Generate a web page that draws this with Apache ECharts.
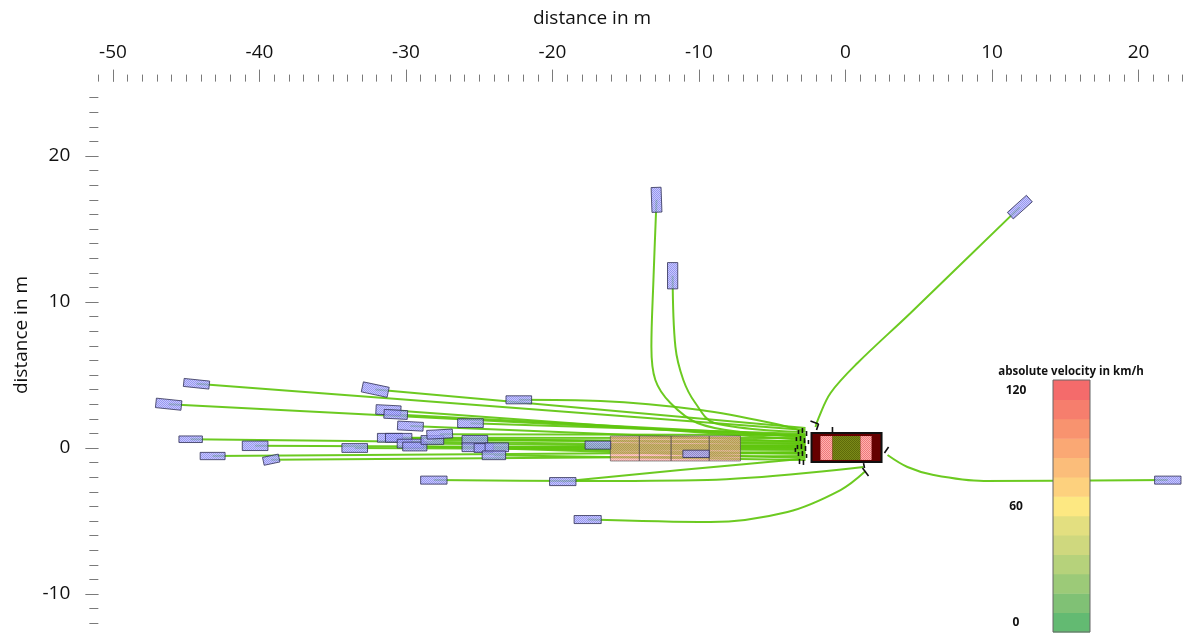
<!DOCTYPE html>
<html>
<head>
<meta charset="utf-8">
<script src="https://cdn.jsdelivr.net/npm/echarts@6/dist/echarts.min.js"></script>
<style>
  html, body { margin: 0; padding: 0; background: #ffffff; }
  #chart { width: 1187px; height: 637px; }
</style>
</head>
<body>
<div id="chart"></div>
<script>
// ---- Scene data (metres, ego vehicle at the origin) ----

// Other road users: centre x, centre y, heading (deg), length, width
const vehX       = [-44.3, -46.2, -32.1, -22.3, -31.2, -30.7, -29.7, -25.6, -44.7, -40.3, -43.2, -39.2, -33.5, -31.1, -30.5, -29.7, -29.4, -28.2, -27.7, -25.3, -25.3, -24.7, -23.8, -24.0, -28.1, -19.3, -17.6, -12.9, -11.8, 11.9, 22.0, -16.9, -10.2];
const vehY       = [4.4, 3.0, 4.0, 3.3, 2.6, 2.3, 1.5, 1.7, 0.6, 0.15, -0.55, -0.8, 0.0, 0.7, 0.7, 0.3, 0.1, 0.55, 0.95, 0.55, 0.05, 0.0, 0.05, -0.5, -2.2, -2.3, -4.9, 17.0, 11.8, 16.5, -2.2, 0.2, -0.4];
const vehHeading = [-6, -6, -12, 0, -3, -3, -3, 0, 0, 0, 0, 12, 0, 0, 0, 0, 0, 0, 3, 0, 0, 0, 0, 0, 0, 0, 0, 92, 90, 42, 0, 0, 0];
const vehLength  = [1.75, 1.75, 1.8, 1.75, 1.7, 1.6, 1.75, 1.75, 1.6, 1.75, 1.7, 1.1, 1.75, 1.7, 1.8, 1.8, 1.65, 1.55, 1.75, 1.75, 1.75, 1.3, 1.6, 1.6, 1.8, 1.8, 1.85, 1.7, 1.8, 1.75, 1.8, 1.75, 1.8];
const vehWidth   = [0.55, 0.65, 0.7, 0.55, 0.65, 0.6, 0.6, 0.6, 0.45, 0.65, 0.5, 0.55, 0.6, 0.6, 0.6, 0.6, 0.6, 0.6, 0.6, 0.6, 0.6, 0.6, 0.6, 0.6, 0.55, 0.55, 0.55, 0.68, 0.7, 0.6, 0.55, 0.55, 0.5];

// Predicted trajectory of each road user, from its position to its end point near the ego vehicle
const tracks = [
  [[-44.3, 4.4], [-2.73, 1.23]],
  [[-46.2, 3.0], [-2.73, 0.75]],
  [[-32.1, 4.0], [-2.73, 1.37]],
  [[-22.3, 3.3], [-16.73, 3.22], [-9.90, 2.60], [-4.44, 1.58], [-2.73, 1.10]],
  [[-31.2, 2.6], [-2.73, 0.55]],
  [[-30.7, 2.3], [-2.73, 0.82]],
  [[-29.7, 1.5], [-2.73, 0.41]],
  [[-25.6, 1.7], [-2.73, 0.96]],
  [[-44.7, 0.6], [-2.73, 0.14]],
  [[-40.3, 0.15], [-2.73, 0.0]],
  [[-43.2, -0.55], [-2.73, -0.27]],
  [[-39.2, -0.8], [-2.73, -0.55]],
  [[-33.5, 0.0], [-2.73, -0.14]],
  [[-31.1, 0.7], [-2.73, 0.68]],
  [[-30.5, 0.7], [-2.73, 0.27]],
  [[-29.7, 0.3], [-2.73, 0.07]],
  [[-29.4, 0.1], [-2.73, -0.41]],
  [[-28.2, 0.55], [-2.73, 0.48]],
  [[-27.7, 0.95], [-2.73, 0.89]],
  [[-25.3, 0.55], [-2.73, 0.34]],
  [[-25.3, 0.05], [-2.73, -0.07]],
  [[-24.7, 0.0], [-2.73, -0.68]],
  [[-23.8, 0.05], [-2.73, 0.21]],
  [[-24.0, -0.5], [-2.73, -0.82]],
  [[-28.1, -2.2], [-18.44, -2.26], [-9.43, -2.19], [1.23, -1.30]],
  [[-19.3, -2.3], [-11.27, -1.51], [-3.07, -0.75]],
  [[-17.6, -4.9], [-9.22, -5.07], [-3.96, -4.38], [-0.34, -2.88], [1.37, -1.58]],
  [[-12.9, 17.0], [-13.11, 11.51], [-13.25, 6.92], [-12.98, 4.66], [-11.95, 3.08], [-10.11, 1.71], [-7.17, 1.10], [-2.87, 0.82]],
  [[-11.8, 11.8], [-11.61, 6.92], [-11.07, 4.66], [-10.25, 3.08], [-8.95, 1.71], [-2.87, 1.10]],
  [[11.9, 16.5], [4.44, 9.25], [0.82, 5.82], [-1.02, 3.77], [-1.84, 2.05], [-2.05, 1.44]],
  [[22.0, -2.2], [9.43, -2.26], [6.01, -1.85], [4.23, -1.30], [2.87, -0.48]],
  [[-16.9, 0.2], [-2.73, 0.07]],
  [[-10.2, -0.4], [-2.73, -0.34]]
];

// Occupied lane section ahead of the ego vehicle: segment edges along x, lateral extent
const bandEdgesX = [-16.05, -14.07, -11.9, -9.3, -7.17];
const bandY      = [-0.89, 0.82];

// Ego vehicle: body extent and the zone edges along its length
const egoBox    = [-2.32, -0.96, 2.46, 1.03];
const egoZonesX = [-1.71, -0.89, 1.02, 1.78];
const egoZoneY  = [-0.82, 0.82];

// Sensor detection markers around the ego vehicle: x1, y1, x2, y2
const markers = [
  [-2.39, 1.85, -1.84, 1.64], [-1.84, 1.64, -1.98, 1.23], [-0.89, 1.44, -0.89, 1.03],
  [2.66, -0.34, 2.94, 0.07], [1.23, -1.03, 1.30, -1.37], [1.16, -1.37, 1.57, -1.92],
  [-3.21, 1.23, -3.21, 0.96], [-2.94, 1.37, -2.94, 1.03], [-2.66, 1.16, -2.66, 0.82],
  [-3.35, 0.75, -3.35, 0.48], [-3.07, 0.82, -3.07, 0.48], [-2.80, 0.68, -2.80, 0.34],
  [-2.53, 0.55, -2.53, 0.27], [-3.28, 0.21, -3.28, -0.07], [-3.01, 0.27, -3.01, -0.07],
  [-2.73, 0.14, -2.73, -0.21], [-3.21, -0.27, -3.21, -0.55], [-2.94, -0.21, -2.94, -0.55],
  [-2.66, -0.41, -2.66, -0.68], [-3.14, -0.75, -3.14, -1.10], [-2.87, -0.82, -2.87, -1.16],
  [-3.42, 0.0, -3.42, -0.27]
];

// Velocity colour scale (km/h), from 0 up to 120
const velocityTicks  = [0, 60, 120];
const velocityColors = ['#63ba72', '#80c175', '#9cca78', '#b6d27b', '#cfd87e', '#e3df80', '#fde882',
                        '#fdd17e', '#fbbd7a', '#faa874', '#f8936f', '#f67e6d', '#f46b6b'];

// Axis ranges and label spacing (m)
const xRange = [-51, 23], xLabelRange = [-50, 20];
const yRange = [-12, 24], yLabelRange = [-10, 20];
const labelStep = 10;

// ---- Layout: equal scaling in both directions ----
const X0 = 845.5, PX = 14.65;   // pixel column of x = 0, pixels per metre
const Y0 = 448, PY = 14.6;      // pixel row of y = 0, pixels per metre
const gx = v => X0 + v * PX;
const gy = v => Y0 - v * PY;

function dotPattern(c1, c2) {
  const cv = document.createElement('canvas');
  cv.width = 2; cv.height = 2;
  const g = cv.getContext('2d');
  g.fillStyle = c1; g.fillRect(0, 0, 2, 2);
  g.fillStyle = c2; g.fillRect(0, 0, 1, 1); g.fillRect(1, 1, 1, 1);
  return { image: cv, repeat: 'repeat' };
}
const vehFill   = dotPattern('#b9b9ff', '#7f7fea');
const pinkFill  = dotPattern('#ffb0b0', '#ee7a7a');
const oliveFill = dotPattern('#7b8a18', '#5e6a0a');

const FONT = '"Open Sans", "Liberation Sans", sans-serif';
const tickColor = '#7a7a7a';

const grids = [
  { left: gx(xRange[0]), top: gy(yRange[1]), width: (xRange[1] - xRange[0]) * PX, height: (yRange[1] - yRange[0]) * PY },
  { left: gx(xLabelRange[0]), top: gy(yRange[1]), width: (xLabelRange[1] - xLabelRange[0]) * PX, height: (yRange[1] - yRange[0]) * PY },
  { left: gx(xRange[0]), top: gy(yLabelRange[1]), width: (xRange[1] - xRange[0]) * PX, height: (yLabelRange[1] - yLabelRange[0]) * PY }
];

const noLine = { show: false, onZero: false };
const hidden = { show: false };

const series = [];

// trajectories
tracks.forEach((t, i) => {
  series.push({
    type: 'line', name: 'track' + i, xAxisIndex: 0, yAxisIndex: 0,
    data: t, showSymbol: false, smooth: t.length > 2 ? 0.35 : false,
    lineStyle: { color: 'rgba(96,198,14,0.92)', width: 2 },
    z: 2, silent: true, animation: false
  });
});

// lane section segments
series.push({
  type: 'custom', xAxisIndex: 0, yAxisIndex: 0, z: 3, silent: true, animation: false,
  data: bandEdgesX.slice(0, -1).map((x, i) => [x, bandY[0], bandEdgesX[i + 1], bandY[1]]),
  encode: { x: [0, 2], y: [1, 3] },
  renderItem(params, api) {
    const p1 = api.coord([api.value(0), api.value(3)]);
    const p2 = api.coord([api.value(2), api.value(1)]);
    return {
      type: 'rect',
      shape: { x: p1[0], y: p1[1], width: p2[0] - p1[0], height: p2[1] - p1[1] },
      style: { fill: pinkFill, stroke: '#4a4a4a', lineWidth: 1, opacity: 0.62 }
    };
  }
});

// road users
series.push({
  type: 'custom', xAxisIndex: 0, yAxisIndex: 0, z: 4, silent: true, animation: false,
  data: vehX.map((x, i) => [x, vehY[i], vehHeading[i], vehLength[i], vehWidth[i]]),
  encode: { x: 0, y: 1 },
  renderItem(params, api) {
    const cx = api.value(0), cy = api.value(1), h = api.value(2) * Math.PI / 180;
    const L = api.value(3), W = api.value(4);
    const c = Math.cos(h), s = Math.sin(h);
    const pts = [[-L / 2, -W / 2], [L / 2, -W / 2], [L / 2, W / 2], [-L / 2, W / 2]]
      .map(([u, v]) => api.coord([cx + u * c - v * s, cy + u * s + v * c]));
    return {
      type: 'polygon', shape: { points: pts },
      style: { fill: vehFill, stroke: '#2f2f55', lineWidth: 1, opacity: 0.8 }
    };
  }
});

// ego vehicle
const egoParts = [
  [egoBox[0], egoBox[1], egoBox[2], egoBox[3], 0],
  [egoZonesX[0], egoZoneY[0], egoZonesX[1], egoZoneY[1], 1],
  [egoZonesX[1], egoZoneY[0], egoZonesX[2], egoZoneY[1], 2],
  [egoZonesX[2], egoZoneY[0], egoZonesX[3], egoZoneY[1], 1]
];
const egoStyles = [
  { fill: '#650000', stroke: '#111111', lineWidth: 2 },
  { fill: pinkFill, stroke: null },
  { fill: oliveFill, stroke: null }
];
series.push({
  type: 'custom', xAxisIndex: 0, yAxisIndex: 0, z: 5, silent: true, animation: false,
  data: egoParts, encode: { x: [0, 2], y: [1, 3] },
  renderItem(params, api) {
    const p1 = api.coord([api.value(0), api.value(3)]);
    const p2 = api.coord([api.value(2), api.value(1)]);
    return {
      type: 'rect',
      shape: { x: p1[0], y: p1[1], width: p2[0] - p1[0], height: p2[1] - p1[1] },
      style: egoStyles[api.value(4)]
    };
  }
});

// detection markers
series.push({
  type: 'custom', xAxisIndex: 0, yAxisIndex: 0, z: 6, silent: true, animation: false,
  data: markers, encode: { x: [0, 2], y: [1, 3] },
  renderItem(params, api) {
    const a = api.coord([api.value(0), api.value(1)]);
    const b = api.coord([api.value(2), api.value(3)]);
    return {
      type: 'line', shape: { x1: a[0], y1: a[1], x2: b[0], y2: b[1] },
      style: { stroke: '#111111', lineWidth: 1.6 }
    };
  }
});

// velocity colour bar
const barLeft = 1053, barTop = 380, barW = 37, barH = 252;
const bandH = barH / velocityColors.length;
const legendGraphics = velocityColors.map((col, i) => ({
  type: 'rect', z: 100,
  shape: { x: barLeft, y: barTop + barH - (i + 1) * bandH, width: barW, height: bandH + 0.5 },
  style: { fill: col }
}));
legendGraphics.push({
  type: 'rect', z: 101,
  shape: { x: barLeft, y: barTop, width: barW, height: barH },
  style: { fill: null, stroke: '#666666', lineWidth: 1 }
});
legendGraphics.push({
  type: 'text', z: 101, x: 1071, y: 372,
  style: { text: 'absolute velocity in km/h', font: 'bold 11.5px ' + FONT, fill: '#111', align: 'center', verticalAlign: 'middle' }
});
velocityTicks.forEach(v => {
  legendGraphics.push({
    type: 'text', z: 101, x: 1016, y: 391 + (velocityTicks[2] - v) / velocityTicks[2] * 232,
    style: { text: String(v), font: 'bold 12px ' + FONT, fill: '#111', align: 'center', verticalAlign: 'middle' }
  });
});
// axis titles
legendGraphics.push({
  type: 'text', x: 592, y: 19,
  style: { text: 'distance in m', font: '19px ' + FONT, fill: '#111', align: 'center', verticalAlign: 'middle' }
});
legendGraphics.push({
  type: 'text', x: 22, y: 335, rotation: Math.PI / 2,
  style: { text: 'distance in m', font: '19px ' + FONT, fill: '#111', align: 'center', verticalAlign: 'middle' }
});

const option = {
  backgroundColor: '#ffffff',
  animation: false,
  grid: grids,
  xAxis: [
    { gridIndex: 0, type: 'value', min: xRange[0], max: xRange[1], interval: 1, position: 'top', offset: 16,
      axisLine: noLine, axisLabel: hidden, splitLine: hidden,
      axisTick: { show: true, length: 7, lineStyle: { color: tickColor, width: 1 } } },
    { gridIndex: 1, type: 'value', min: xLabelRange[0], max: xLabelRange[1], interval: labelStep, position: 'top', offset: 16,
      axisLine: noLine, splitLine: hidden,
      axisTick: { show: true, length: 12, lineStyle: { color: tickColor, width: 1 } },
      axisLabel: { margin: 20, fontSize: 19, fontFamily: FONT, color: '#111' } },
    { gridIndex: 2, type: 'value', min: xRange[0], max: xRange[1], show: false, axisLine: noLine }
  ],
  yAxis: [
    { gridIndex: 0, type: 'value', min: yRange[0], max: yRange[1], interval: 1, position: 'left',
      axisLine: noLine, axisLabel: hidden, splitLine: hidden,
      axisTick: { show: true, length: 9, lineStyle: { color: tickColor, width: 1 } } },
    { gridIndex: 1, type: 'value', min: yRange[0], max: yRange[1], show: false, axisLine: noLine },
    { gridIndex: 2, type: 'value', min: yLabelRange[0], max: yLabelRange[1], interval: labelStep, position: 'left',
      axisLine: noLine, splitLine: hidden,
      axisTick: { show: true, length: 13, lineStyle: { color: tickColor, width: 1 } },
      axisLabel: { margin: 28, fontSize: 19, fontFamily: FONT, color: '#111' } }
  ],
  graphic: legendGraphics,
  series: series
};

const chart = echarts.init(document.getElementById('chart'), null, { renderer: 'canvas' });
chart.setOption(option);
</script>
</body>
</html>
